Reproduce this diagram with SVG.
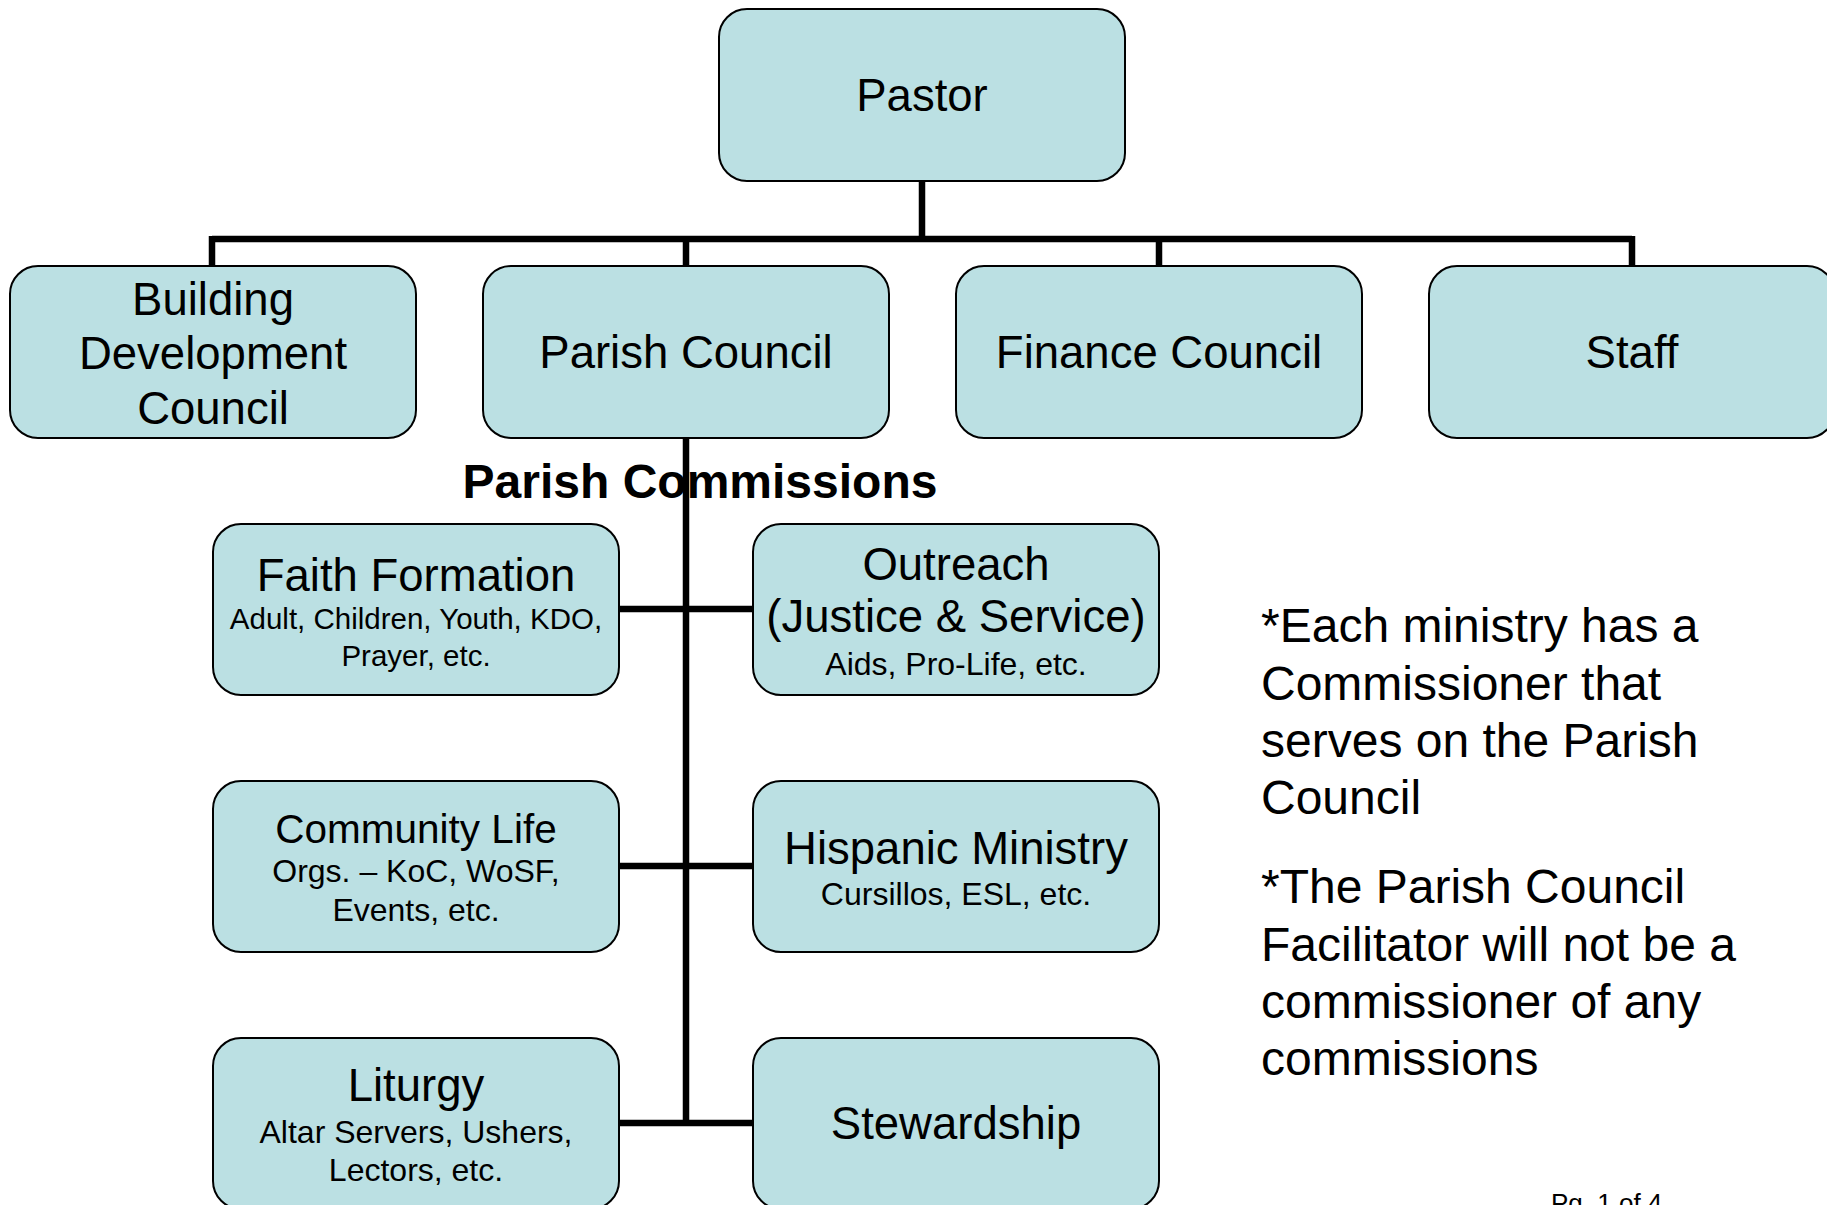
<svg xmlns="http://www.w3.org/2000/svg" width="1827" height="1205" viewBox="0 0 1827 1205">
<style>
.box{fill:#BBE0E3;stroke:#000;stroke-width:2}
.t{font-family:"Liberation Sans",Arial,sans-serif;fill:#000;text-anchor:middle}
.big{font-size:45.5px}
.sub{font-size:32px}
.note{font-family:"Liberation Sans",Arial,sans-serif;font-size:48px;fill:#000}
.conn{stroke:#000;stroke-width:6.5;fill:none}
</style>
<rect width="1827" height="1205" fill="#fff"/>
<g id="connectors">
<path class="conn" d="M922 181V239M212 239H1632M212 236V266M686 236V266M1159 236V266M1632 236V266"/>
<path class="conn" d="M686 438V1123M619 609H753M619 866H753M619 1123H753"/>
</g>
<g id="pastor"><rect class="box" x="719" y="9" width="406" height="172" rx="28"/><text class="t big" x="922" y="111">Pastor</text></g>
<g id="building"><rect class="box" x="10" y="266" width="406" height="172" rx="28"/><text class="t big" x="213" y="315">Building</text><text class="t big" x="213" y="369">Development</text><text class="t big" x="213" y="424">Council</text></g>
<g id="parish-council"><rect class="box" x="483" y="266" width="406" height="172" rx="28"/><text class="t big" x="686" y="368">Parish Council</text></g>
<g id="finance-council"><rect class="box" x="956" y="266" width="406" height="172" rx="28"/><text class="t big" x="1159" y="368">Finance Council</text></g>
<g id="staff"><rect class="box" x="1429" y="266" width="406" height="172" rx="28"/><text class="t big" x="1632" y="368">Staff</text></g>
<text id="commissions-label" x="700" y="498" font-family="Liberation Sans,Arial,sans-serif" font-size="48" font-weight="bold" text-anchor="middle">Parish Commissions</text>
<g id="faith-formation"><rect class="box" x="213" y="524" width="406" height="171" rx="28"/><text class="t big" x="416" y="591">Faith Formation</text><text class="t" font-size="29.5" x="416" y="629">Adult, Children, Youth, KDO,</text><text class="t" font-size="29.5" x="416" y="666">Prayer, etc.</text></g>
<g id="outreach"><rect class="box" x="753" y="524" width="406" height="171" rx="28"/><text class="t big" x="956" y="580">Outreach</text><text class="t big" x="956" y="632">(Justice &amp; Service)</text><text class="t sub" x="956" y="675">Aids, Pro-Life, etc.</text></g>
<g id="community-life"><rect class="box" x="213" y="781" width="406" height="171" rx="28"/><text class="t" font-size="40.5" x="416" y="843">Community Life</text><text class="t sub" x="416" y="882">Orgs. – KoC, WoSF,</text><text class="t sub" x="416" y="921">Events, etc.</text></g>
<g id="hispanic-ministry"><rect class="box" x="753" y="781" width="406" height="171" rx="28"/><text class="t big" x="956" y="864">Hispanic Ministry</text><text class="t sub" x="956" y="905">Cursillos, ESL, etc.</text></g>
<g id="liturgy"><rect class="box" x="213" y="1038" width="406" height="171" rx="28"/><text class="t big" x="416" y="1101">Liturgy</text><text class="t sub" x="416" y="1143">Altar Servers, Ushers,</text><text class="t sub" x="416" y="1181">Lectors, etc.</text></g>
<g id="stewardship"><rect class="box" x="753" y="1038" width="406" height="171" rx="28"/><text class="t big" x="956" y="1139">Stewardship</text></g>
<g id="notes">
<text class="note" x="1261" y="642">*Each ministry has a</text>
<text class="note" x="1261" y="700">Commissioner that</text>
<text class="note" x="1261" y="757">serves on the Parish</text>
<text class="note" x="1261" y="814">Council</text>
<text class="note" x="1261" y="903">*The Parish Council</text>
<text class="note" x="1261" y="961">Facilitator will not be a</text>
<text class="note" x="1261" y="1018">commissioner of any</text>
<text class="note" x="1261" y="1075">commissions</text>
</g>
<text id="page" x="1551" y="1212" font-family="Liberation Sans,Arial,sans-serif" font-size="26">Pg. 1 of 4</text>
</svg>
